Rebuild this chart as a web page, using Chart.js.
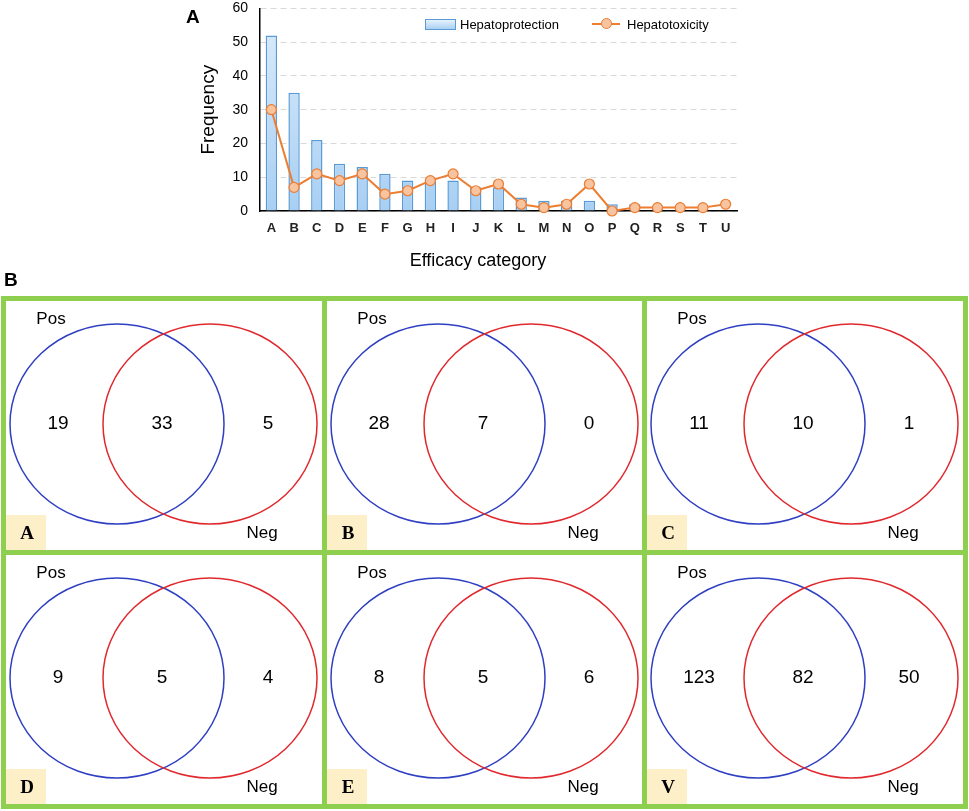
<!DOCTYPE html>
<html><head><meta charset="utf-8">
<script src="https://cdn.jsdelivr.net/npm/chart.js@4.4.1/dist/chart.umd.min.js"></script>
<style>
html,body{margin:0;padding:0;background:#fff;width:969px;height:811px;overflow:hidden;font-family:'Liberation Sans',Arial,sans-serif;}
#topCanvas{position:absolute;left:0;top:-12px;}
.panelLbl{position:absolute;font-weight:bold;font-size:19px;color:#000;line-height:1;}
.legText{position:absolute;font-size:13px;color:#000;line-height:1;white-space:nowrap;}
#xTitle{position:absolute;left:378px;top:250px;width:200px;text-align:center;font-size:18px;line-height:20px;color:#000;}
#vennBox{position:absolute;left:1px;top:296px;width:967px;height:513px;background:#8fcf4f;display:grid;grid-template-columns:repeat(3,1fr);grid-template-rows:repeat(2,1fr);gap:5px;padding:5px;box-sizing:border-box;}
.cell{position:relative;background:#fff;overflow:hidden;}
.cell canvas{position:absolute;left:0;top:0;}
</style></head>
<body>
<canvas id="topCanvas" width="969" height="290"></canvas>
<div class="panelLbl" style="left:186px;top:7px;">A</div>
<div class="panelLbl" style="left:4px;top:270px;">B</div>
<div id="xTitle">Efficacy category</div>
<div style="position:absolute;left:425px;top:19px;width:29px;height:9px;border:1px solid #5b9bd5;background:linear-gradient(#e6f2fd,#a9d0f3);"></div>
<div class="legText" style="left:460px;top:18px;">Hepatoprotection</div>
<div style="position:absolute;left:592px;top:23px;width:28px;height:2px;background:#ed7d31;"></div>
<div style="position:absolute;left:601px;top:18px;width:9px;height:9px;border:1px solid #ed7d31;border-radius:50%;background:#f8c4a0;"></div>
<div class="legText" style="left:627px;top:18px;">Hepatotoxicity</div>
<div id="vennBox"></div>
<script>
// ---- Panel A data ----
const categories = ['A','B','C','D','E','F','G','H','I','J','K','L','M','N','O','P','Q','R','S','T','U'];
const hepatoprotection = [52,35,21,14,13,11,9,9,9,7,7,4,3,3,3,2,2,1,0,0,0];
const hepatotoxicity = [30,7,11,9,11,5,6,9,11,6,8,2,1,2,8,0,1,1,1,1,2];
const yTicks = [0,10,20,30,40,50,60];

// ---- Panel B (Venn) data ----
const vennPanels = ['A','B','C','D','E','V'];
const vennPosOnly = [19,28,11,9,8,123];
const vennBoth = [33,7,10,5,5,82];
const vennNegOnly = [5,0,1,4,6,50];
const vennSetNames = ['Pos','Neg'];

Chart.defaults.font.family = "'Liberation Sans', Arial, sans-serif";
Chart.defaults.animation = false;

new Chart(document.getElementById('topCanvas'), {
  type: 'bar',
  data: {
    labels: categories,
    datasets: [
      {
        type: 'line', label: 'Hepatotoxicity', data: hepatotoxicity, order: 0,
        borderColor: '#ed7d31', borderWidth: 2, tension: 0, clip: false,
        pointRadius: 5, pointBackgroundColor: '#f8c4a0', pointBorderColor: '#ed7d31', pointBorderWidth: 1.2
      },
      {
        type: 'bar', label: 'Hepatoprotection', data: hepatoprotection, order: 1,
        backgroundColor: (c) => {
          const a = c.chart.chartArea;
          if (!a) return '#c5e0f8';
          const g = c.chart.ctx.createLinearGradient(0, a.top, 0, a.bottom);
          g.addColorStop(0, '#dcecfc'); g.addColorStop(1, '#a8cff3');
          return g;
        },
        borderColor: '#5b9bd5', borderWidth: 1.5, borderSkipped: 'bottom',
        barPercentage: 0.5, categoryPercentage: 1
      }
    ]
  },
  options: {
    responsive: false,
    layout: { padding: { left: 193, right: 232, top: 0, bottom: 0 } },
    plugins: { legend: { display: false }, tooltip: { enabled: false } },
    scales: {
      x: {
        grid: { display: false, drawTicks: false },
        border: { color: '#000', width: 1.5 },
        ticks: { color: '#222', font: { size: 13, weight: 'bold' }, padding: 10, maxRotation: 0, autoSkip: false },
        afterFit: (s) => { s.height = 67; }
      },
      y: {
        min: 0, max: 60,
        afterBuildTicks: (s) => { s.ticks = yTicks.map(v => ({ value: v })); },
        grid: { color: '#d9d9d9', lineWidth: 1, drawTicks: false },
        border: { color: '#000', width: 1.5, dash: [6, 4] },
        ticks: { color: '#000', font: { size: 14 }, padding: 12 },
        title: { display: true, text: 'Frequency', color: '#000', font: { size: 19 } },
        afterFit: (s) => { s.width = 67; }
      }
    }
  }
});

// ---- Venn panels ----
const ELL = { blueX: 111, redX: 204, cy: 123, rx: 107, ry: 100 };
const vennPlugin = {
  id: 'venn',
  beforeDatasetsDraw(chart, args, opts) {
    const { ctx, scales: { x, y } } = chart;
    const ell = (cx, color) => {
      const px = x.getPixelForValue(cx), py = y.getPixelForValue(ELL.cy);
      const rx = Math.abs(x.getPixelForValue(cx + ELL.rx) - px);
      const ry = Math.abs(y.getPixelForValue(ELL.cy + ELL.ry) - py);
      ctx.save();
      ctx.beginPath(); ctx.ellipse(px, py, rx, ry, 0, 0, Math.PI * 2);
      ctx.strokeStyle = color; ctx.lineWidth = 1.5; ctx.stroke();
      ctx.restore();
    };
    ell(ELL.blueX, '#2f3fc2');
    ell(ELL.redX, '#e0282d');
    ctx.save();
    ctx.fillStyle = '#fdf0c8';
    ctx.fillRect(x.getPixelForValue(0), y.getPixelForValue(214), 40, 40);
    ctx.fillStyle = '#000';
    ctx.textAlign = 'center'; ctx.textBaseline = 'middle';
    ctx.font = "bold 19px 'Liberation Serif', 'Times New Roman', serif";
    ctx.fillText(vennPanels[opts.index], x.getPixelForValue(21), y.getPixelForValue(233));
    ctx.font = "17px 'Liberation Sans', Arial, sans-serif";
    ctx.fillText(vennSetNames[0], x.getPixelForValue(45), y.getPixelForValue(18));
    ctx.fillText(vennSetNames[1], x.getPixelForValue(256), y.getPixelForValue(232));
    ctx.restore();
  },
  afterDatasetsDraw(chart, args, opts) {
    const { ctx } = chart;
    const meta = chart.getDatasetMeta(0);
    const vals = [vennPosOnly[opts.index], vennBoth[opts.index], vennNegOnly[opts.index]];
    ctx.save();
    ctx.fillStyle = '#000';
    ctx.textAlign = 'center'; ctx.textBaseline = 'middle';
    ctx.font = "19px 'Liberation Sans', Arial, sans-serif";
    meta.data.forEach((pt, j) => ctx.fillText(String(vals[j]), pt.x, pt.y));
    ctx.restore();
  }
};

const box = document.getElementById('vennBox');
vennPanels.forEach((name, i) => {
  const cell = document.createElement('div');
  cell.className = 'cell';
  const cv = document.createElement('canvas');
  cv.width = 316; cv.height = 249;
  cell.appendChild(cv);
  box.appendChild(cell);
  new Chart(cv, {
    type: 'scatter',
    data: { datasets: [{ data: [{ x: 52, y: 123 }, { x: 156, y: 123 }, { x: 262, y: 123 }], pointRadius: 0 }] },
    options: {
      responsive: false,
      layout: { padding: 0 },
      plugins: { legend: { display: false }, tooltip: { enabled: false }, venn: { index: i } },
      scales: {
        x: { type: 'linear', min: 0, max: 316, display: false },
        y: { type: 'linear', min: 0, max: 249, reverse: true, display: false }
      }
    },
    plugins: [vennPlugin]
  });
});
</script>
</body></html>
